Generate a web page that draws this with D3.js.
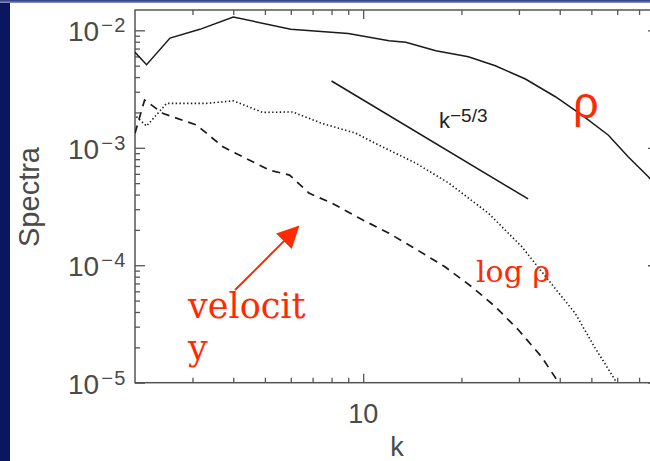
<!DOCTYPE html>
<html>
<head>
<meta charset="utf-8">
<script src="https://cdn.jsdelivr.net/npm/d3@7"></script>
<style>
  html, body { margin: 0; padding: 0; background: #fff; }
  svg { display: block; }
</style>
</head>
<body>
<svg id="chart"></svg>
<script>
// spectra (k, amplitude)
const rhoK = [2, 2.17, 2.56, 3.16, 4, 6, 9, 12, 13.5, 16.7, 21, 25.4, 31.4, 38.8, 46.8, 56.4, 64.8, 74.6, 80];
const rhoV = [6.5e-3, 5.1e-3, 8.6e-3, 1.02e-2, 1.3e-2, 1.02e-2, 9.4e-3, 8.15e-3, 7.9e-3, 6.7e-3, 5.95e-3,
  5.0e-3, 3.85e-3, 2.72e-3, 1.9e-3, 1.28e-3, 8.4e-4, 5.7e-4, 4.6e-4];

const logRhoK = [2.02, 2.17, 2.5, 3.31, 4, 4.93, 6.08, 7.5, 9.5, 10.9, 14.5, 18.3, 24.2, 30.6, 36.9, 44.6, 51.2, 59.8];
const logRhoV = [1.84e-3, 1.53e-3, 2.39e-3, 2.39e-3, 2.51e-3, 2.0e-3, 2.02e-3, 1.61e-3, 1.33e-3, 1.09e-3,
  7.4e-4, 5.0e-4, 2.77e-4, 1.44e-4, 7.5e-5, 3.9e-5, 2.0e-5, 1.0e-5];

const velK = [2, 2.14, 2.44, 3.09, 3.72, 4.08, 5.16, 5.95, 6.84, 8.06, 9.72, 12, 14.1, 17.8, 21.5, 25.4, 29.9, 35.2, 39.7];
const velV = [1.33e-3, 2.55e-3, 1.96e-3, 1.56e-3, 1.02e-3, 8.96e-4, 6.46e-4, 5.86e-4, 4.09e-4, 3.36e-4,
  2.52e-4, 1.87e-4, 1.44e-4, 9.7e-5, 6.56e-5, 4.44e-5, 2.81e-5, 1.66e-5, 1.0e-5];

// k^-5/3 guide line end points
const refK = [8, 32];
const refV = [3.7e-3, 3.67e-4];

// arrow pointing at the velocity curve (tail, tip)
const arrowK = [4.05, 6.31];
const arrowV = [6.15e-5, 2.11e-4];

const xMajor = [10];
const xMinor = [3, 4, 5, 6, 7, 8, 9, 20, 30, 40, 50, 60, 70];
const yMajor = [1e-5, 1e-4, 1e-3, 1e-2];
const yExp = ["−5", "−4", "−3", "−2"];

const width = 650, height = 461;
const plot = { left: 135, right: 658, top: 10, bottom: 382.7 };

const svg = d3.select("#chart").attr("width", width).attr("height", height);

// slide frame decoration
svg.append("rect").attr("x", 0).attr("y", 0).attr("width", 10).attr("height", height).attr("fill", "#0b1660");
const grad = svg.append("defs").append("linearGradient").attr("id", "topbar")
  .attr("x1", 0).attr("y1", 0).attr("x2", 0).attr("y2", 1);
grad.append("stop").attr("offset", "0%").attr("stop-color", "#24337e");
grad.append("stop").attr("offset", "100%").attr("stop-color", "#8f98c4");
svg.append("rect").attr("x", 0).attr("y", 0).attr("width", width).attr("height", 3).attr("fill", "url(#topbar)");

const x = d3.scaleLog().domain([2, 80]).range([plot.left, plot.right]);
const y = d3.scaleLog().domain([1e-5, 0.0149]).range([plot.bottom, plot.top]);

svg.append("defs").append("clipPath").attr("id", "clip")
  .append("rect")
  .attr("x", plot.left).attr("y", plot.top)
  .attr("width", plot.right - plot.left).attr("height", plot.bottom - plot.top);

const axisColor = "#555";

function styleAxis(g) {
  g.select(".domain").remove();
  g.selectAll("line").attr("stroke", axisColor).attr("stroke-width", 1.3);
  g.selectAll("text").remove();
}

// ticks on all four sides, pointing inward
const yMinor = [];
yMajor.forEach(d => { for (let m = 2; m <= 9; m++) if (d * m <= 0.0149) yMinor.push(d * m); });

svg.append("g").attr("transform", `translate(0,${plot.bottom})`)
  .call(d3.axisBottom(x).tickValues(xMinor).tickSize(-5)).call(styleAxis);
svg.append("g").attr("transform", `translate(0,${plot.bottom})`)
  .call(d3.axisBottom(x).tickValues(xMajor).tickSize(-9)).call(styleAxis);
svg.append("g").attr("transform", `translate(0,${plot.top})`)
  .call(d3.axisTop(x).tickValues(xMinor).tickSize(-5)).call(styleAxis);
svg.append("g").attr("transform", `translate(0,${plot.top})`)
  .call(d3.axisTop(x).tickValues(xMajor).tickSize(-9)).call(styleAxis);
svg.append("g").attr("transform", `translate(${plot.left},0)`)
  .call(d3.axisLeft(y).tickValues(yMinor).tickSize(-5)).call(styleAxis);
svg.append("g").attr("transform", `translate(${plot.left},0)`)
  .call(d3.axisLeft(y).tickValues(yMajor).tickSize(-10)).call(styleAxis);
svg.append("g").attr("transform", `translate(${plot.right},0)`)
  .call(d3.axisRight(y).tickValues(yMinor).tickSize(-5)).call(styleAxis);
svg.append("g").attr("transform", `translate(${plot.right},0)`)
  .call(d3.axisRight(y).tickValues(yMajor).tickSize(-10)).call(styleAxis);

// frame
svg.append("rect")
  .attr("x", plot.left).attr("y", plot.top)
  .attr("width", plot.right - plot.left).attr("height", plot.bottom - plot.top)
  .attr("fill", "none").attr("stroke", axisColor).attr("stroke-width", 1.5);

// tick labels
const labelFont = "'Liberation Sans', Arial, Helvetica, sans-serif";
const labelColor = "#4a4a4a";
svg.append("g").selectAll("text").data(xMajor).join("text")
  .attr("x", d => x(d)).attr("y", 423)
  .attr("text-anchor", "middle")
  .attr("font-family", labelFont).attr("font-size", 27).attr("fill", labelColor)
  .text(d => d);

const yl = svg.append("g").selectAll("text").data(yMajor).join("text")
  .attr("x", 127).attr("y", d => y(d) + 11)
  .attr("text-anchor", "end")
  .attr("font-family", labelFont).attr("fill", labelColor);
yl.append("tspan").attr("font-size", 28).text("10");
yl.append("tspan").attr("font-size", 20).attr("dx", 2).attr("dy", -9)
  .attr("letter-spacing", 1.5).text((d, i) => yExp[i]);

// axis titles
svg.append("text").attr("x", 397).attr("y", 456)
  .attr("text-anchor", "middle")
  .attr("font-family", labelFont).attr("font-size", 27).attr("fill", labelColor)
  .text("k");
svg.append("text").attr("transform", "translate(39,197) rotate(-90)")
  .attr("text-anchor", "middle")
  .attr("font-family", labelFont).attr("font-size", 29).attr("fill", labelColor)
  .text("Spectra");

// curves
const line = d3.line().x(d => x(d[0])).y(d => y(d[1]));
const curves = svg.append("g").attr("clip-path", "url(#clip)")
  .attr("fill", "none").attr("stroke", "#1a1a1a");

curves.append("path").attr("d", line(d3.zip(rhoK, rhoV))).attr("stroke-width", 1.5);
curves.append("path").attr("d", line(d3.zip(logRhoK, logRhoV)))
  .attr("stroke-width", 1.6).attr("stroke-dasharray", "1.4,2.4");
curves.append("path").attr("d", line(d3.zip(velK, velV)))
  .attr("stroke-width", 1.7).attr("stroke-dasharray", "8,6");
curves.append("path").attr("d", line(d3.zip(refK, refV))).attr("stroke-width", 1.6);

// k^-5/3 label
const kl = svg.append("text").attr("x", 439).attr("y", 128)
  .attr("font-family", labelFont).attr("fill", "#222");
kl.append("tspan").attr("font-size", 22).text("k");
kl.append("tspan").attr("font-size", 19).attr("dy", -6).text("−5/3");

// red annotations
const red = "#ff2a00";
const serif = "'DejaVu Serif', 'Liberation Serif', serif";
svg.append("text").attr("x", 573).attr("y", 118)
  .attr("font-family", labelFont).attr("font-size", 45).attr("fill", red).text("ρ");
svg.append("text").attr("x", 476).attr("y", 282)
  .attr("font-family", serif).attr("font-size", 30).attr("fill", red).text("log ρ");
svg.append("text").attr("x", 188).attr("y", 318)
  .attr("font-family", serif).attr("font-size", 35).attr("fill", red).text("velocit");
svg.append("text").attr("x", 188).attr("y", 360)
  .attr("font-family", serif).attr("font-size", 35).attr("fill", red).text("y");

svg.append("defs").append("marker").attr("id", "head")
  .attr("viewBox", "0 0 10 10").attr("refX", 9).attr("refY", 5)
  .attr("markerWidth", 22).attr("markerHeight", 22).attr("markerUnits", "userSpaceOnUse")
  .attr("orient", "auto")
  .append("path").attr("d", "M0,0L10,5L0,10z").attr("fill", red);
svg.append("path")
  .attr("d", line(d3.zip(arrowK, arrowV)))
  .attr("stroke", red).attr("stroke-width", 2).attr("fill", "none")
  .attr("marker-end", "url(#head)");
</script>
</body>
</html>
